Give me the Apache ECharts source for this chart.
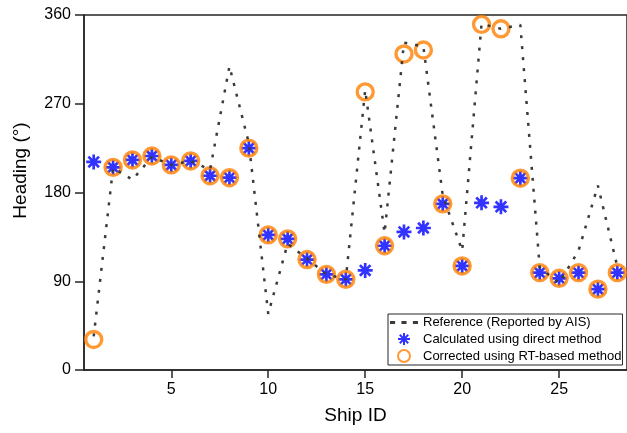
<!DOCTYPE html>
<html>
<head>
<meta charset="utf-8">
<script src="https://cdn.jsdelivr.net/npm/echarts@6.0.0/dist/echarts.min.js"></script>
<style>
    html, body { margin: 0; padding: 0; background: #fff; }
    #headingChart { width: 627px; height: 433px; }
</style>
</head>
<body>
<div id="headingChart"></div>
<script>
    // ship ids along x
    var shipIds = [1, 2, 3, 4, 5, 6, 7, 8, 9, 10, 11, 12, 13, 14, 15, 16, 17, 18, 19, 20, 21, 22, 23, 24, 25, 26, 27, 28];
    // heading reported by AIS (dotted line)
    var referenceHeading = [34, 205, 193, 216, 208, 212, 203, 308, 230, 57, 128, 113, 97, 92, 284, 139, 332, 328, 177, 121, 351, 346, 350, 104, 88, 121, 187, 105];
    // direct method (blue stars)
    var directHeading = [211, 205.5, 213, 217, 208, 212, 197, 195, 225, 137, 133, 112, 97, 92, 101, 126, 140, 144, 168.5, 105.5, 169.5, 165.5, 194.5, 98.7, 93, 98.7, 82, 98.7];
    // RT-based method (orange circles)
    var correctedHeading = [31, 205.5, 213, 217, 208, 212, 197, 195, 225, 137, 133, 112, 97, 92, 282, 126, 320.5, 324.5, 168.5, 105.5, 350.5, 346, 194.5, 98.7, 93, 98.7, 82, 98.7];
    var xTickValues = [5, 10, 15, 20, 25];

    var fontName = "'Liberation Sans', Arial, sans-serif";
    var axisColor = '#262626';
    var refColor = '#3a3a3a';
    var starPath = 'path://M0,-10L0,10M-10,0L10,0M-7.07,-7.07L7.07,7.07M-7.07,7.07L7.07,-7.07';
    // three short dashes for the legend entry of the dotted line
    var dashIcon = 'path://M0,0h4v2.4h-4zM9,0h4v2.4h-4zM18,0h4v2.4h-4z';

    function pairs(list) {
        return shipIds.map(function (id, i) { return [id, list[i]]; });
    }

    var chart = echarts.init(document.getElementById('headingChart'));
    chart.setOption({
        animation: false,
        textStyle: { fontFamily: fontName },
        grid: {
            left: 84, top: 15, width: 546, height: 355,
            show: true, borderColor: axisColor, borderWidth: 1.5, backgroundColor: 'transparent'
        },
        legend: {
            left: 388, top: 314,
            orient: 'vertical',
            padding: [2, 1, 2, 2],
            itemGap: 3, itemWidth: 28, itemHeight: 12,
            selectedMode: false,
            backgroundColor: '#fff',
            borderColor: axisColor, borderWidth: 1,
            textStyle: { fontSize: 13, color: '#000', fontFamily: fontName },
            data: [
                { name: 'Reference (Reported by AIS)', icon: dashIcon },
                { name: 'Calculated using direct method' },
                { name: 'Corrected using RT-based method' }
            ]
        },
        xAxis: {
            type: 'value', min: 0.5, max: 28.5,
            name: 'Ship ID', nameLocation: 'middle', nameGap: 36,
            nameTextStyle: { fontSize: 19, color: '#000', fontFamily: fontName },
            axisLine: { lineStyle: { color: axisColor, width: 1.5 } },
            axisTick: { customValues: xTickValues, length: 8, lineStyle: { color: axisColor, width: 1.5 } },
            axisLabel: { customValues: xTickValues, fontSize: 16, color: '#000', margin: 12, fontFamily: fontName },
            splitLine: { show: false }
        },
        yAxis: {
            type: 'value', min: 0, max: 360, interval: 90,
            name: 'Heading (°)', nameLocation: 'middle', nameGap: 54,
            nameTextStyle: { fontSize: 19, color: '#000', fontFamily: fontName, padding: [0, 0, 0, 44] },
            axisLine: { show: true, lineStyle: { color: axisColor, width: 1.5 } },
            axisTick: { show: true, length: 9, lineStyle: { color: axisColor, width: 1.5 } },
            axisLabel: { fontSize: 16, color: '#000', margin: 13, fontFamily: fontName },
            splitLine: { show: false }
        },
        series: [
            {
                name: 'Reference (Reported by AIS)',
                type: 'line',
                data: pairs(referenceHeading),
                symbol: 'none',
                lineStyle: { color: refColor, width: 2.5, type: [3, 8] },
                itemStyle: { color: refColor }
            },
            {
                name: 'Calculated using direct method',
                type: 'scatter',
                data: pairs(directHeading),
                symbol: starPath,
                symbolSize: 15,
                itemStyle: { color: '#0000ff', borderColor: '#0000ff', borderWidth: 2.7 }
            },
            {
                name: 'Corrected using RT-based method',
                type: 'scatter',
                data: pairs(correctedHeading),
                symbol: 'circle',
                symbolSize: 16,
                itemStyle: { color: 'rgba(255,255,255,0)', borderColor: '#ff8000', borderWidth: 3.4 }
            }
        ]
    });
</script>
</body>
</html>
